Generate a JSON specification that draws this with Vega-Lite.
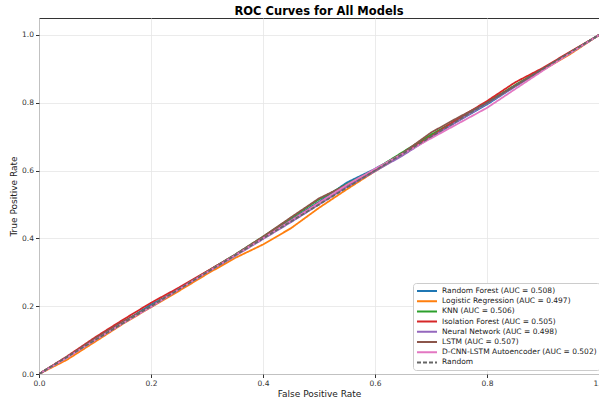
{
  "$schema": "https://vega.github.io/schema/vega-lite/v6.json",
  "autosize": {"type": "none"},
  "width": 560,
  "height": 356,
  "padding": {"left": 39, "top": 18, "right": 0, "bottom": 29},
  "background": "white",
  "title": {"text": "ROC Curves for All Models", "font": "DejaVu Sans", "fontSize": 11.5, "fontWeight": "bold", "color": "#000", "anchor": "middle", "offset": 1},
  "config": {
    "font": "DejaVu Sans",
    "view": {"stroke": "#333", "strokeWidth": 1}
  },
  "data": {"values": [
    {"model": "Random Forest (AUC = 0.508)", "fpr": 0, "tpr": 0},
    {"model": "Random Forest (AUC = 0.508)", "fpr": 0.05, "tpr": 0.048},
    {"model": "Random Forest (AUC = 0.508)", "fpr": 0.1, "tpr": 0.103},
    {"model": "Random Forest (AUC = 0.508)", "fpr": 0.15, "tpr": 0.152},
    {"model": "Random Forest (AUC = 0.508)", "fpr": 0.2, "tpr": 0.205},
    {"model": "Random Forest (AUC = 0.508)", "fpr": 0.25, "tpr": 0.248},
    {"model": "Random Forest (AUC = 0.508)", "fpr": 0.3, "tpr": 0.298},
    {"model": "Random Forest (AUC = 0.508)", "fpr": 0.35, "tpr": 0.35},
    {"model": "Random Forest (AUC = 0.508)", "fpr": 0.4, "tpr": 0.402},
    {"model": "Random Forest (AUC = 0.508)", "fpr": 0.45, "tpr": 0.455},
    {"model": "Random Forest (AUC = 0.508)", "fpr": 0.5, "tpr": 0.508},
    {"model": "Random Forest (AUC = 0.508)", "fpr": 0.55, "tpr": 0.565},
    {"model": "Random Forest (AUC = 0.508)", "fpr": 0.6, "tpr": 0.605},
    {"model": "Random Forest (AUC = 0.508)", "fpr": 0.65, "tpr": 0.652},
    {"model": "Random Forest (AUC = 0.508)", "fpr": 0.7, "tpr": 0.7},
    {"model": "Random Forest (AUC = 0.508)", "fpr": 0.75, "tpr": 0.748},
    {"model": "Random Forest (AUC = 0.508)", "fpr": 0.8, "tpr": 0.795},
    {"model": "Random Forest (AUC = 0.508)", "fpr": 0.85, "tpr": 0.848},
    {"model": "Random Forest (AUC = 0.508)", "fpr": 0.9, "tpr": 0.898},
    {"model": "Random Forest (AUC = 0.508)", "fpr": 0.95, "tpr": 0.948},
    {"model": "Random Forest (AUC = 0.508)", "fpr": 1, "tpr": 1},
    {"model": "Logistic Regression (AUC = 0.497)", "fpr": 0, "tpr": 0},
    {"model": "Logistic Regression (AUC = 0.497)", "fpr": 0.05, "tpr": 0.042},
    {"model": "Logistic Regression (AUC = 0.497)", "fpr": 0.1, "tpr": 0.095},
    {"model": "Logistic Regression (AUC = 0.497)", "fpr": 0.15, "tpr": 0.148},
    {"model": "Logistic Regression (AUC = 0.497)", "fpr": 0.2, "tpr": 0.197},
    {"model": "Logistic Regression (AUC = 0.497)", "fpr": 0.25, "tpr": 0.245},
    {"model": "Logistic Regression (AUC = 0.497)", "fpr": 0.3, "tpr": 0.295},
    {"model": "Logistic Regression (AUC = 0.497)", "fpr": 0.35, "tpr": 0.342},
    {"model": "Logistic Regression (AUC = 0.497)", "fpr": 0.4, "tpr": 0.382},
    {"model": "Logistic Regression (AUC = 0.497)", "fpr": 0.45, "tpr": 0.43},
    {"model": "Logistic Regression (AUC = 0.497)", "fpr": 0.5, "tpr": 0.49},
    {"model": "Logistic Regression (AUC = 0.497)", "fpr": 0.55, "tpr": 0.545},
    {"model": "Logistic Regression (AUC = 0.497)", "fpr": 0.6, "tpr": 0.598},
    {"model": "Logistic Regression (AUC = 0.497)", "fpr": 0.65, "tpr": 0.648},
    {"model": "Logistic Regression (AUC = 0.497)", "fpr": 0.7, "tpr": 0.703},
    {"model": "Logistic Regression (AUC = 0.497)", "fpr": 0.75, "tpr": 0.752},
    {"model": "Logistic Regression (AUC = 0.497)", "fpr": 0.8, "tpr": 0.802},
    {"model": "Logistic Regression (AUC = 0.497)", "fpr": 0.85, "tpr": 0.85},
    {"model": "Logistic Regression (AUC = 0.497)", "fpr": 0.9, "tpr": 0.897},
    {"model": "Logistic Regression (AUC = 0.497)", "fpr": 0.95, "tpr": 0.945},
    {"model": "Logistic Regression (AUC = 0.497)", "fpr": 1, "tpr": 1},
    {"model": "KNN (AUC = 0.506)", "fpr": 0, "tpr": 0},
    {"model": "KNN (AUC = 0.506)", "fpr": 0.05, "tpr": 0.05},
    {"model": "KNN (AUC = 0.506)", "fpr": 0.1, "tpr": 0.102},
    {"model": "KNN (AUC = 0.506)", "fpr": 0.15, "tpr": 0.153},
    {"model": "KNN (AUC = 0.506)", "fpr": 0.2, "tpr": 0.2},
    {"model": "KNN (AUC = 0.506)", "fpr": 0.25, "tpr": 0.252},
    {"model": "KNN (AUC = 0.506)", "fpr": 0.3, "tpr": 0.302},
    {"model": "KNN (AUC = 0.506)", "fpr": 0.35, "tpr": 0.352},
    {"model": "KNN (AUC = 0.506)", "fpr": 0.4, "tpr": 0.405},
    {"model": "KNN (AUC = 0.506)", "fpr": 0.45, "tpr": 0.46},
    {"model": "KNN (AUC = 0.506)", "fpr": 0.5, "tpr": 0.515},
    {"model": "KNN (AUC = 0.506)", "fpr": 0.55, "tpr": 0.56},
    {"model": "KNN (AUC = 0.506)", "fpr": 0.6, "tpr": 0.603},
    {"model": "KNN (AUC = 0.506)", "fpr": 0.65, "tpr": 0.655},
    {"model": "KNN (AUC = 0.506)", "fpr": 0.7, "tpr": 0.706},
    {"model": "KNN (AUC = 0.506)", "fpr": 0.75, "tpr": 0.752},
    {"model": "KNN (AUC = 0.506)", "fpr": 0.8, "tpr": 0.8},
    {"model": "KNN (AUC = 0.506)", "fpr": 0.85, "tpr": 0.852},
    {"model": "KNN (AUC = 0.506)", "fpr": 0.9, "tpr": 0.9},
    {"model": "KNN (AUC = 0.506)", "fpr": 0.95, "tpr": 0.95},
    {"model": "KNN (AUC = 0.506)", "fpr": 1, "tpr": 1},
    {"model": "Isolation Forest (AUC = 0.505)", "fpr": 0, "tpr": 0},
    {"model": "Isolation Forest (AUC = 0.505)", "fpr": 0.05, "tpr": 0.052},
    {"model": "Isolation Forest (AUC = 0.505)", "fpr": 0.1, "tpr": 0.108},
    {"model": "Isolation Forest (AUC = 0.505)", "fpr": 0.15, "tpr": 0.16},
    {"model": "Isolation Forest (AUC = 0.505)", "fpr": 0.2, "tpr": 0.21},
    {"model": "Isolation Forest (AUC = 0.505)", "fpr": 0.25, "tpr": 0.255},
    {"model": "Isolation Forest (AUC = 0.505)", "fpr": 0.3, "tpr": 0.303},
    {"model": "Isolation Forest (AUC = 0.505)", "fpr": 0.35, "tpr": 0.35},
    {"model": "Isolation Forest (AUC = 0.505)", "fpr": 0.4, "tpr": 0.4},
    {"model": "Isolation Forest (AUC = 0.505)", "fpr": 0.45, "tpr": 0.452},
    {"model": "Isolation Forest (AUC = 0.505)", "fpr": 0.5, "tpr": 0.505},
    {"model": "Isolation Forest (AUC = 0.505)", "fpr": 0.55, "tpr": 0.555},
    {"model": "Isolation Forest (AUC = 0.505)", "fpr": 0.6, "tpr": 0.6},
    {"model": "Isolation Forest (AUC = 0.505)", "fpr": 0.65, "tpr": 0.65},
    {"model": "Isolation Forest (AUC = 0.505)", "fpr": 0.7, "tpr": 0.7},
    {"model": "Isolation Forest (AUC = 0.505)", "fpr": 0.75, "tpr": 0.755},
    {"model": "Isolation Forest (AUC = 0.505)", "fpr": 0.8, "tpr": 0.805},
    {"model": "Isolation Forest (AUC = 0.505)", "fpr": 0.85, "tpr": 0.86},
    {"model": "Isolation Forest (AUC = 0.505)", "fpr": 0.9, "tpr": 0.903},
    {"model": "Isolation Forest (AUC = 0.505)", "fpr": 0.95, "tpr": 0.952},
    {"model": "Isolation Forest (AUC = 0.505)", "fpr": 1, "tpr": 1},
    {"model": "Neural Network (AUC = 0.498)", "fpr": 0, "tpr": 0},
    {"model": "Neural Network (AUC = 0.498)", "fpr": 0.05, "tpr": 0.05},
    {"model": "Neural Network (AUC = 0.498)", "fpr": 0.1, "tpr": 0.1},
    {"model": "Neural Network (AUC = 0.498)", "fpr": 0.15, "tpr": 0.15},
    {"model": "Neural Network (AUC = 0.498)", "fpr": 0.2, "tpr": 0.2},
    {"model": "Neural Network (AUC = 0.498)", "fpr": 0.25, "tpr": 0.25},
    {"model": "Neural Network (AUC = 0.498)", "fpr": 0.3, "tpr": 0.3},
    {"model": "Neural Network (AUC = 0.498)", "fpr": 0.35, "tpr": 0.348},
    {"model": "Neural Network (AUC = 0.498)", "fpr": 0.4, "tpr": 0.398},
    {"model": "Neural Network (AUC = 0.498)", "fpr": 0.45, "tpr": 0.448},
    {"model": "Neural Network (AUC = 0.498)", "fpr": 0.5, "tpr": 0.5},
    {"model": "Neural Network (AUC = 0.498)", "fpr": 0.55, "tpr": 0.552},
    {"model": "Neural Network (AUC = 0.498)", "fpr": 0.6, "tpr": 0.598},
    {"model": "Neural Network (AUC = 0.498)", "fpr": 0.65, "tpr": 0.645},
    {"model": "Neural Network (AUC = 0.498)", "fpr": 0.7, "tpr": 0.698},
    {"model": "Neural Network (AUC = 0.498)", "fpr": 0.75, "tpr": 0.748},
    {"model": "Neural Network (AUC = 0.498)", "fpr": 0.8, "tpr": 0.798},
    {"model": "Neural Network (AUC = 0.498)", "fpr": 0.85, "tpr": 0.848},
    {"model": "Neural Network (AUC = 0.498)", "fpr": 0.9, "tpr": 0.898},
    {"model": "Neural Network (AUC = 0.498)", "fpr": 0.95, "tpr": 0.948},
    {"model": "Neural Network (AUC = 0.498)", "fpr": 1, "tpr": 1},
    {"model": "LSTM (AUC = 0.507)", "fpr": 0, "tpr": 0},
    {"model": "LSTM (AUC = 0.507)", "fpr": 0.05, "tpr": 0.05},
    {"model": "LSTM (AUC = 0.507)", "fpr": 0.1, "tpr": 0.105},
    {"model": "LSTM (AUC = 0.507)", "fpr": 0.15, "tpr": 0.155},
    {"model": "LSTM (AUC = 0.507)", "fpr": 0.2, "tpr": 0.198},
    {"model": "LSTM (AUC = 0.507)", "fpr": 0.25, "tpr": 0.25},
    {"model": "LSTM (AUC = 0.507)", "fpr": 0.3, "tpr": 0.302},
    {"model": "LSTM (AUC = 0.507)", "fpr": 0.35, "tpr": 0.352},
    {"model": "LSTM (AUC = 0.507)", "fpr": 0.4, "tpr": 0.405},
    {"model": "LSTM (AUC = 0.507)", "fpr": 0.45, "tpr": 0.462},
    {"model": "LSTM (AUC = 0.507)", "fpr": 0.5, "tpr": 0.518},
    {"model": "LSTM (AUC = 0.507)", "fpr": 0.55, "tpr": 0.558},
    {"model": "LSTM (AUC = 0.507)", "fpr": 0.6, "tpr": 0.602},
    {"model": "LSTM (AUC = 0.507)", "fpr": 0.65, "tpr": 0.652},
    {"model": "LSTM (AUC = 0.507)", "fpr": 0.7, "tpr": 0.712},
    {"model": "LSTM (AUC = 0.507)", "fpr": 0.75, "tpr": 0.758},
    {"model": "LSTM (AUC = 0.507)", "fpr": 0.8, "tpr": 0.8},
    {"model": "LSTM (AUC = 0.507)", "fpr": 0.85, "tpr": 0.85},
    {"model": "LSTM (AUC = 0.507)", "fpr": 0.9, "tpr": 0.9},
    {"model": "LSTM (AUC = 0.507)", "fpr": 0.95, "tpr": 0.95},
    {"model": "LSTM (AUC = 0.507)", "fpr": 1, "tpr": 1},
    {"model": "D-CNN-LSTM Autoencoder (AUC = 0.502)", "fpr": 0, "tpr": 0},
    {"model": "D-CNN-LSTM Autoencoder (AUC = 0.502)", "fpr": 0.05, "tpr": 0.048},
    {"model": "D-CNN-LSTM Autoencoder (AUC = 0.502)", "fpr": 0.1, "tpr": 0.1},
    {"model": "D-CNN-LSTM Autoencoder (AUC = 0.502)", "fpr": 0.15, "tpr": 0.15},
    {"model": "D-CNN-LSTM Autoencoder (AUC = 0.502)", "fpr": 0.2, "tpr": 0.198},
    {"model": "D-CNN-LSTM Autoencoder (AUC = 0.502)", "fpr": 0.25, "tpr": 0.25},
    {"model": "D-CNN-LSTM Autoencoder (AUC = 0.502)", "fpr": 0.3, "tpr": 0.3},
    {"model": "D-CNN-LSTM Autoencoder (AUC = 0.502)", "fpr": 0.35, "tpr": 0.35},
    {"model": "D-CNN-LSTM Autoencoder (AUC = 0.502)", "fpr": 0.4, "tpr": 0.4},
    {"model": "D-CNN-LSTM Autoencoder (AUC = 0.502)", "fpr": 0.45, "tpr": 0.452},
    {"model": "D-CNN-LSTM Autoencoder (AUC = 0.502)", "fpr": 0.5, "tpr": 0.505},
    {"model": "D-CNN-LSTM Autoencoder (AUC = 0.502)", "fpr": 0.55, "tpr": 0.558},
    {"model": "D-CNN-LSTM Autoencoder (AUC = 0.502)", "fpr": 0.6, "tpr": 0.605},
    {"model": "D-CNN-LSTM Autoencoder (AUC = 0.502)", "fpr": 0.65, "tpr": 0.65},
    {"model": "D-CNN-LSTM Autoencoder (AUC = 0.502)", "fpr": 0.7, "tpr": 0.695},
    {"model": "D-CNN-LSTM Autoencoder (AUC = 0.502)", "fpr": 0.75, "tpr": 0.74},
    {"model": "D-CNN-LSTM Autoencoder (AUC = 0.502)", "fpr": 0.8, "tpr": 0.785},
    {"model": "D-CNN-LSTM Autoencoder (AUC = 0.502)", "fpr": 0.85, "tpr": 0.84},
    {"model": "D-CNN-LSTM Autoencoder (AUC = 0.502)", "fpr": 0.9, "tpr": 0.895},
    {"model": "D-CNN-LSTM Autoencoder (AUC = 0.502)", "fpr": 0.95, "tpr": 0.948},
    {"model": "D-CNN-LSTM Autoencoder (AUC = 0.502)", "fpr": 1, "tpr": 1},
    {"model": "Random", "fpr": 0, "tpr": 0},
    {"model": "Random", "fpr": 1, "tpr": 1}
  ]},
  "mark": {"type": "line", "strokeWidth": 1.8, "clip": true},
  "encoding": {
    "x": {"field": "fpr", "type": "quantitative", "title": "False Positive Rate",
      "scale": {"domain": [0, 1], "nice": false, "zero": false},
      "axis": {"values": [0, 0.2, 0.4, 0.6, 0.8, 1.0], "format": ".1f", "labelFontSize": 7.5, "labelColor": "#333", "titleFontSize": 9, "titleFontWeight": "normal", "titleColor": "#222", "titlePadding": 2, "tickColor": "#333", "tickSize": 3.5, "domain": false, "gridColor": "#e6e6e6", "gridWidth": 0.8, "labelPadding": 2, "labelFlush": false}},
    "y": {"field": "tpr", "type": "quantitative", "title": "True Positive Rate",
      "scale": {"domain": [0, 1.05], "nice": false, "zero": false},
      "axis": {"values": [0, 0.2, 0.4, 0.6, 0.8, 1.0], "format": ".1f", "labelFontSize": 7.5, "labelColor": "#333", "titleFontSize": 9, "titleFontWeight": "normal", "titleColor": "#222", "titlePadding": 3, "tickColor": "#333", "tickSize": 3.5, "domain": false, "gridColor": "#e6e6e6", "gridWidth": 0.8, "labelPadding": 2}},
    "color": {"field": "model", "type": "nominal", "title": null,
      "scale": {"domain": ["Random Forest (AUC = 0.508)", "Logistic Regression (AUC = 0.497)", "KNN (AUC = 0.506)", "Isolation Forest (AUC = 0.505)", "Neural Network (AUC = 0.498)", "LSTM (AUC = 0.507)", "D-CNN-LSTM Autoencoder (AUC = 0.502)", "Random"],
        "range": ["#1f77b4", "#ff7f0e", "#2ca02c", "#d62728", "#9467bd", "#8c564b", "#e377c2", "#666666"]},
      "legend": {"orient": "none", "legendX": 374, "legendY": 265, "labelFontSize": 7.5, "labelColor": "#222", "symbolType": "M-1,0H4", "symbolSize": 64, "symbolStrokeWidth": 2, "rowPadding": 1.2, "padding": 3, "fillColor": "white", "strokeColor": "#ccc", "cornerRadius": 3, "labelLimit": 250, "labelOffset": 16}},
    "strokeDash": {"field": "model", "type": "nominal", "title": null,
      "scale": {"domain": ["Random Forest (AUC = 0.508)", "Logistic Regression (AUC = 0.497)", "KNN (AUC = 0.506)", "Isolation Forest (AUC = 0.505)", "Neural Network (AUC = 0.498)", "LSTM (AUC = 0.507)", "D-CNN-LSTM Autoencoder (AUC = 0.502)", "Random"],
        "range": [[1, 0], [1, 0], [1, 0], [1, 0], [1, 0], [1, 0], [1, 0], [4, 2]]},
      "legend": {"orient": "none", "legendX": 374, "legendY": 265, "labelFontSize": 7.5, "labelColor": "#222", "symbolType": "M-1,0H4", "symbolSize": 64, "symbolStrokeWidth": 2, "rowPadding": 1.2, "padding": 3, "fillColor": "white", "strokeColor": "#ccc", "cornerRadius": 3, "labelLimit": 250, "labelOffset": 16}}
  }
}
